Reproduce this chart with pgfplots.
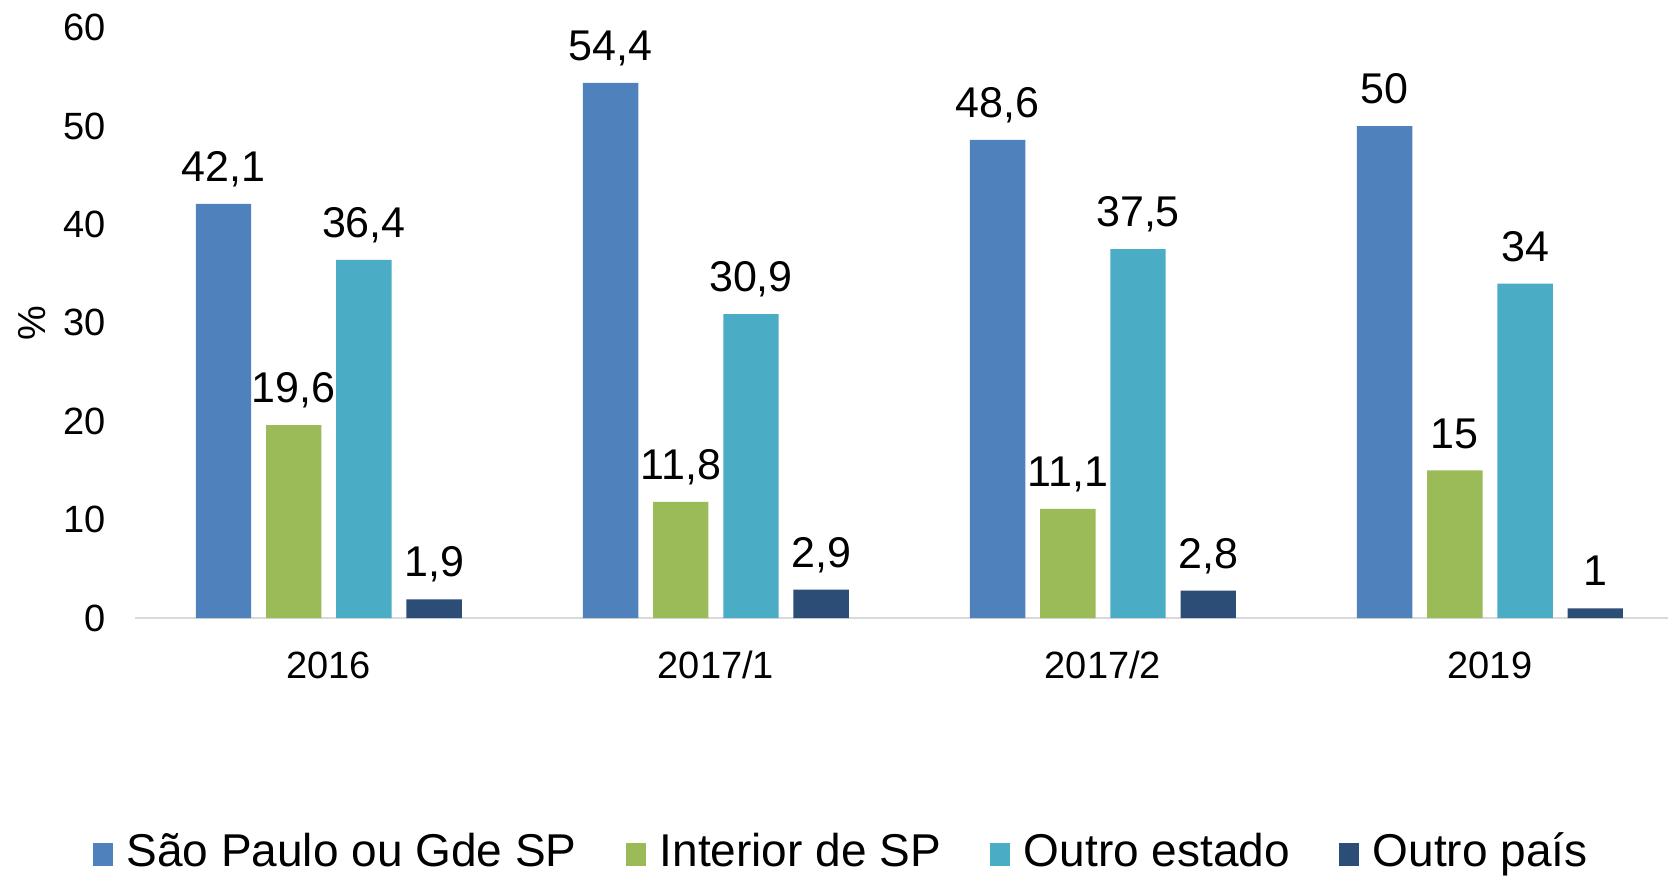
\documentclass[border=0pt]{standalone}
\usepackage{fontspec}
\setmainfont{Liberation Sans}
\usepackage{pgfplots}
\pgfplotsset{compat=1.18}
\definecolor{c1}{HTML}{4F81BD}
\definecolor{c2}{HTML}{9BBB59}
\definecolor{c3}{HTML}{4BACC6}
\definecolor{c4}{HTML}{2C4D75}
\definecolor{axgray}{HTML}{D9D9D9}
\begin{document}
\begin{tikzpicture}
\begin{axis}[
  at={(67.65pt,128.95pt)}, anchor=south west,
  scale only axis, width=766.35pt, height=295.2pt,
  ybar=7.4pt, bar width=27.7pt,
  xmin=-0.5, xmax=3.46, ymin=0, ymax=60,
  xtick={0,1,2,3}, xticklabels={2016,2017/1,2017/2,2019},
  ytick={0,10,...,60},
  axis lines*=left,
  y axis line style={draw=none},
  x axis line style={draw=axgray, line width=1pt},
  major tick length=0pt,
  /pgf/number format/assume math mode=true,
  /pgf/number format/use comma,
  tick label style={font=\fontsize{19}{22}\selectfont},
  xticklabel style={anchor=base, inner sep=0pt, yshift=-30.1pt},
  yticklabel style={anchor=east, inner sep=0pt, xshift=-14.5pt},
  ylabel={\%},
  ylabel style={at={(axis description cs:-0.0671,0.5)}, anchor=center, font=\fontsize{19.5}{22}\selectfont},
  nodes near coords={\smash{\pgfmathprintnumber[assume math mode=true,use comma]{\pgfplotspointmeta}}},
  every node near coord/.append style={font=\fontsize{21.5}{24}\selectfont, inner sep=0pt, yshift=10.5pt, text=black},
  legend columns=4,
  legend style={at={(axis description cs:-0.0279,-0.394)}, anchor=west, draw=none, fill=none, inner sep=0pt, outer sep=0pt, font=\fontsize{23}{26}\selectfont, cells={anchor=base west, inner sep=0pt}, /tikz/every odd column/.append style={column sep=5pt}, /tikz/every even column/.append style={column sep=22.5pt}},
  legend image code/.code={\fill[#1,draw=none] (0pt,0pt) rectangle (10pt,11.5pt);},
]
\addplot[fill=c1, draw=none] coordinates {(0,42.1) (1,54.4) (2,48.6) (3,50)};
\addplot[fill=c2, draw=none] coordinates {(0,19.6) (1,11.8) (2,11.1) (3,15)};
\addplot[fill=c3, draw=none] coordinates {(0,36.4) (1,30.9) (2,37.5) (3,34)};
\addplot[fill=c4, draw=none] coordinates {(0,1.9) (1,2.9) (2,2.8) (3,1)};
\legend{São Paulo ou Gde SP, Interior de SP, Outro estado, Outro país}
\end{axis}
\pgfresetboundingbox
\useasboundingbox (0,0) rectangle (834pt,438pt);
\end{tikzpicture}
\end{document}
